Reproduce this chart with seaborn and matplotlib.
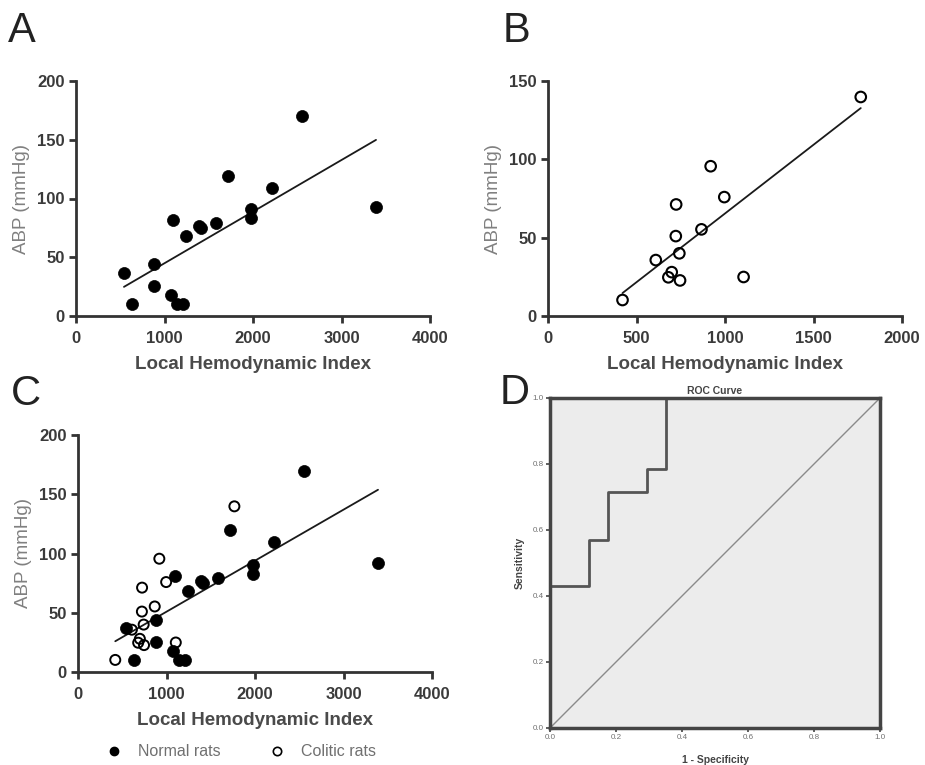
import numpy as np
import pandas as pd
import matplotlib
matplotlib.use("Agg")
import matplotlib.pyplot as plt
import seaborn as sns
from matplotlib.lines import Line2D

sns.set_theme(style="ticks")
plt.rcParams['font.family'] = ['Liberation Sans', 'DejaVu Sans']

# ---- data ----
normal_lhi = [542, 637, 881, 881, 1070, 1092, 1145, 1213, 1243, 1390, 1412,
              1582, 1718, 1981, 1981, 2211, 2550, 3390]
normal_abp = [36.8, 10.2, 44.2, 25.5, 17.8, 81.3, 10.2, 10.2, 68, 77, 74.8,
              79.3, 119.5, 90.7, 83, 109.3, 170, 92.4]

colitic_lhi = [421, 609, 680, 699, 724, 722, 742, 746, 867, 919, 996, 1105, 1767]
colitic_abp = [10.2, 35.7, 24.7, 28, 71.2, 51, 40, 22.7, 55.3, 95.6, 75.9, 24.9, 139.8]

roc_fpr = [0.0, 0.0, 0.118, 0.176, 0.294, 0.353, 1.0]
roc_tpr = [0.0, 0.429, 0.571, 0.714, 0.786, 1.0, 1.0]
ref_line = [0.0, 1.0]

xticks_A = [0, 1000, 2000, 3000, 4000]
yticks_A = [0, 50, 100, 150, 200]
xticks_B = [0, 500, 1000, 1500, 2000]
yticks_B = [0, 50, 100, 150]
roc_ticks = [0.0, 0.2, 0.4, 0.6, 0.8, 1.0]

df_n = pd.DataFrame({"lhi": normal_lhi, "abp": normal_abp})
df_c = pd.DataFrame({"lhi": colitic_lhi, "abp": colitic_abp})
df_all = pd.concat([df_n, df_c], ignore_index=True)

SPINE = "#333333"
TICKLBL = "#3a3a3a"
YLBL = "#808080"
XLBL = "#4a4a4a"

fig = plt.figure(figsize=(9.25, 7.65), dpi=100)
W, H = 925.0, 765.0


def add_ax(x0, y0, x1, y1):
    return fig.add_axes([x0 / W, 1 - y1 / H, (x1 - x0) / W, (y1 - y0) / H])


def prism(ax, xt, yt):
    sns.despine(ax=ax)
    for s in ("left", "bottom"):
        ax.spines[s].set_color(SPINE)
        ax.spines[s].set_linewidth(2.0)
    ax.set_xlim(xt[0], xt[-1])
    ax.set_ylim(yt[0], yt[-1])
    ax.set_xticks(xt)
    ax.set_yticks(yt)
    ax.tick_params(direction="out", length=5, width=2.0, color=SPINE,
                   labelsize=12, labelcolor=TICKLBL)
    ax.tick_params(axis="x", pad=6)
    ax.tick_params(axis="y", pad=3)
    for lab in ax.get_xticklabels() + ax.get_yticklabels():
        lab.set_fontweight("bold")
    ax.set_xlabel("Local Hemodynamic Index", fontsize=13.5, fontweight="bold",
                  color=XLBL, labelpad=7)
    ax.set_ylabel("ABP (mmHg)", fontsize=13.5, color=YLBL, labelpad=5)
    ax.set_facecolor("white")


def reg(ax, data):
    sns.regplot(data=data, x="lhi", y="abp", ax=ax, scatter=False, ci=None,
                truncate=True, line_kws=dict(color="#1a1a1a", lw=1.3))


# ---- Panel A ----
axA = add_ax(76, 81, 430, 316)
reg(axA, df_n)
sns.scatterplot(data=df_n, x="lhi", y="abp", ax=axA, s=75, color="black",
                edgecolor="black", linewidth=0.5, clip_on=False, zorder=3)
prism(axA, xticks_A, yticks_A)

# ---- Panel B ----
axB = add_ax(548, 81, 902, 316)
reg(axB, df_c)
sns.scatterplot(data=df_c, x="lhi", y="abp", ax=axB, s=58, facecolor="none",
                edgecolor="black", linewidth=1.5, clip_on=False, zorder=3)
prism(axB, xticks_B, yticks_B)

# ---- Panel C ----
axC = add_ax(78, 435, 432, 672)
reg(axC, df_all)
sns.scatterplot(data=df_n, x="lhi", y="abp", ax=axC, s=75, color="black",
                edgecolor="black", linewidth=0.5, clip_on=False, zorder=3)
sns.scatterplot(data=df_c, x="lhi", y="abp", ax=axC, s=52, facecolor="none",
                edgecolor="black", linewidth=1.4, clip_on=False, zorder=4)
prism(axC, xticks_A, yticks_A)

handles = [
    Line2D([], [], marker="o", ls="none", markersize=6, markerfacecolor="black",
           markeredgecolor="black"),
    Line2D([], [], marker="o", ls="none", markersize=6, markerfacecolor="none",
           markeredgecolor="black", markeredgewidth=1.2),
]
fig.legend(handles, ["Normal rats", "Colitic rats"], loc="center left",
           bbox_to_anchor=(92 / W, 1 - 752 / H), ncol=2, frameon=False,
           fontsize=11.5, labelcolor="#707070", handletextpad=1.0,
           columnspacing=3.0, handlelength=1.0)

# ---- Panel D ----
axD = add_ax(550, 398, 880, 728)
axD.set_facecolor("#ececec")
sns.lineplot(x=ref_line, y=ref_line, ax=axD, color="#8a8a8a", lw=1.0,
             estimator=None, sort=False)
sns.lineplot(x=roc_fpr, y=roc_tpr, ax=axD, color="#555555", lw=2.0,
             estimator=None, sort=False, drawstyle="steps-post")
axD.set_xlim(0, 1)
axD.set_ylim(0, 1)
axD.set_xticks(roc_ticks)
axD.set_yticks(roc_ticks)
axD.set_xticklabels([f"{t:.1f}" for t in roc_ticks])
axD.set_yticklabels([f"{t:.1f}" for t in roc_ticks])
for s in axD.spines.values():
    s.set_visible(True)
    s.set_color("#444444")
    s.set_linewidth(2.5)
axD.tick_params(direction="out", length=3, width=1.2, color="#444444",
                labelsize=5.8, labelcolor="#707070", pad=1.5)
axD.set_title("ROC Curve", fontsize=7.5, fontweight="bold", color="#444444",
              pad=3)
axD.set_xlabel("1 - Specificity", fontsize=7.5, fontweight="bold",
               color="#444444", labelpad=10)
axD.set_ylabel("Sensitivity", fontsize=7.5, fontweight="bold",
               color="#444444", labelpad=6)

# ---- Panel letters ----
for letter, x, y in [("A", 8, 42), ("B", 503, 42), ("C", 11, 405), ("D", 500, 404)]:
    fig.text(x / W, 1 - y / H, letter, fontsize=30, color="#222222",
             ha="left", va="baseline")

fig.savefig("out.png", dpi=100)
